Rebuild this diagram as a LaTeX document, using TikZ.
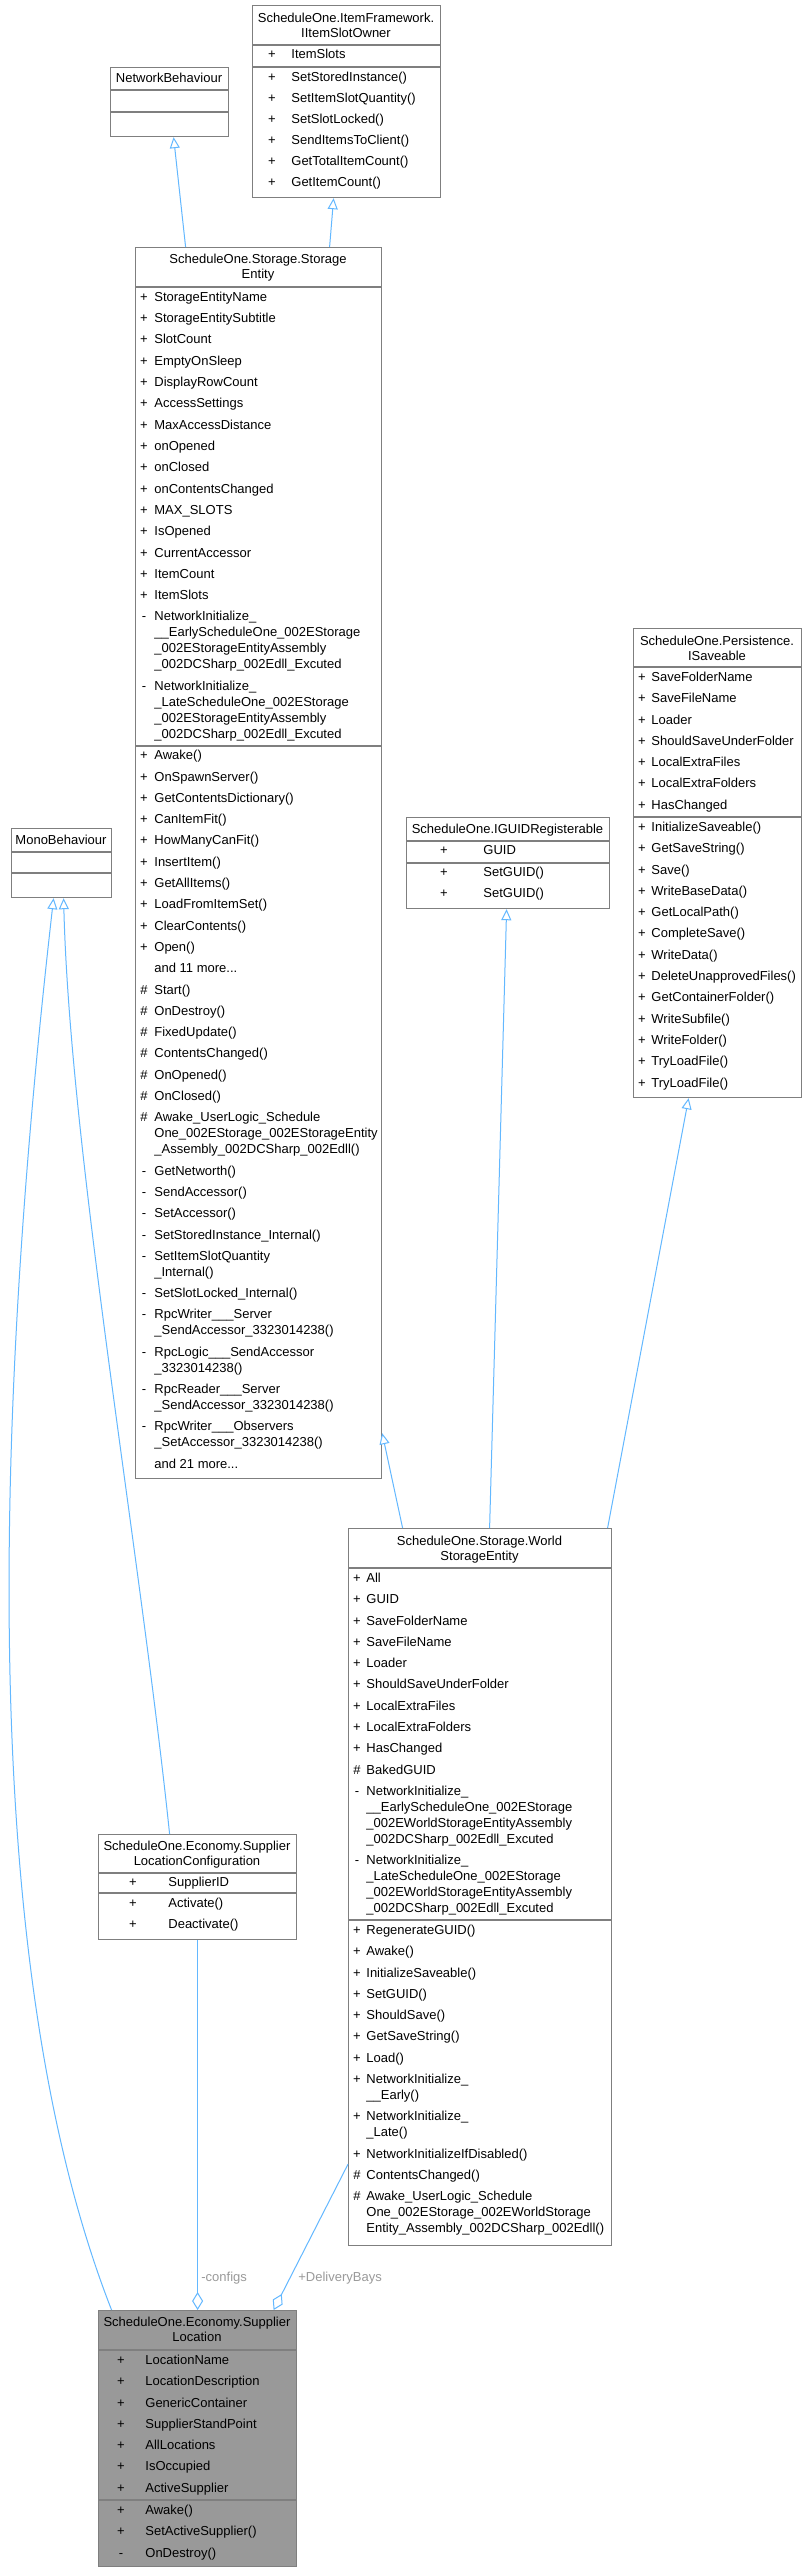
\documentclass[tikz,border=0pt]{standalone}
\usepackage{fontspec}
\setmainfont{Liberation Sans}
\usepackage{xcolor}
\usetikzlibrary{arrows.meta}

\definecolor{boxgray}{HTML}{7F7F7F}
\definecolor{edgeblue}{HTML}{63B8FF}
\definecolor{lblgray}{HTML}{9A9A9A}
\definecolor{focusgray}{HTML}{999999}

\begin{document}
\begin{tikzpicture}[
    x=0.5pt, y=-0.5pt,
    cls/.style={rectangle, draw=boxgray, line width=0.6pt, fill=white, inner sep=0pt, anchor=north west},
    sep/.style={draw=boxgray, line width=0.6pt},
    ttl/.style={inner sep=0pt, font=\fontsize{6.5}{7}\selectfont, text height=4.8pt, text depth=1.4pt},
    sym/.style={ttl},
    mem/.style={ttl, anchor=west},
    role/.style={mem, text=lblgray},
    inh/.style={draw=edgeblue, line width=0.5pt, -{Triangle[open, length=5.5pt, width=5pt, fill=white]}},
    agg/.style={draw=edgeblue, line width=0.5pt, -{Diamond[open, length=9pt, width=5.5pt, fill=white]}},
]
    \path[use as bounding box, fill=white] (0,0) rectangle (806,2568);

    % NetworkBehaviour
    \node[cls, minimum width=59pt, minimum height=34.5pt] (nb) at (110,67) {};
    \node[ttl] (nb-t) at (169,79) {NetworkBehaviour};
    \draw[sep] (110,90) -- (228,90);
    \draw[sep] (110,112) -- (228,112);

    % IItemSlotOwner
    \node[cls, minimum width=94pt, minimum height=96pt] (iso) at (252,5) {};
    \node[ttl] (iso-t1) at (346,19) {ScheduleOne.ItemFramework.};
    \node[ttl] (iso-t2) at (346,34) {IItemSlotOwner};
    \draw[sep] (252,45) -- (440,45);
    \draw[sep] (252,67) -- (440,67);
    \node[sym] (iso-as1) at (272,55) {+};
    \node[mem] (iso-a1) at (291,55) {ItemSlots};
    \foreach \y/\t [count=\i] in {78/SetStoredInstance(), 99/SetItemSlotQuantity(),
        120/SetSlotLocked(), 141/SendItemsToClient(), 162/GetTotalItemCount(), 183/GetItemCount()} {
        \node[sym] (iso-os\i) at (272,\y) {+};
        \node[mem] (iso-o\i) at (291,\y) {\t};
    }

    % MonoBehaviour
    \node[cls, minimum width=50pt, minimum height=34.5pt] (mb) at (11,828) {};
    \node[ttl] (mb-t) at (61,841) {MonoBehaviour};
    \draw[sep] (11,852) -- (111,852);
    \draw[sep] (11,873) -- (111,873);

    % StorageEntity
    \node[cls, minimum width=123pt, minimum height=615.5pt] (se) at (135,247) {};
    \node[ttl] (se-t1) at (258,260) {ScheduleOne.Storage.Storage};
    \node[ttl] (se-t2) at (258,275) {Entity};
    \draw[sep] (135,287) -- (381,287);
    \draw[sep] (135,746) -- (381,746);
    \foreach \y/\s/\t [count=\i] in {298/+/StorageEntityName, 319.3/+/StorageEntitySubtitle,
        340.6/+/SlotCount, 361.9/+/EmptyOnSleep, 383.2/+/DisplayRowCount, 404.5/+/AccessSettings,
        425.8/+/MaxAccessDistance, 447.1/+/onOpened, 468.4/+/onClosed, 489.7/+/onContentsChanged,
        511/+/MAX\_SLOTS, 532.3/+/IsOpened, 553.6/+/CurrentAccessor, 574.9/+/ItemCount,
        596.2/+/ItemSlots,
        617.5/-/NetworkInitialize\_, 633.5//\_\_EarlyScheduleOne\_002EStorage,
        649.5//\_002EStorageEntityAssembly, 665.5//\_002DCSharp\_002Edll\_Excuted,
        686.8/-/NetworkInitialize\_, 702.8//\_LateScheduleOne\_002EStorage,
        718.8//\_002EStorageEntityAssembly, 734.8//\_002DCSharp\_002Edll\_Excuted} {
        \node[sym] (se-as\i) at (144,\y) {\s};
        \node[mem] (se-a\i) at (154,\y) {\t};
    }
    \foreach \y/\s/\t [count=\i] in {756.3/+/Awake(), 777.6/+/OnSpawnServer(),
        798.9/+/GetContentsDictionary(), 820.2/+/CanItemFit(), 841.5/+/HowManyCanFit(),
        862.8/+/InsertItem(), 884.1/+/GetAllItems(), 905.4/+/LoadFromItemSet(),
        926.7/+/ClearContents(), 948/+/Open(),
        990.6/\#/Start(), 1011.9/\#/OnDestroy(), 1033.2/\#/FixedUpdate(),
        1054.5/\#/ContentsChanged(), 1075.8/\#/OnOpened(), 1097.1/\#/OnClosed(),
        1118.4/\#/Awake\_UserLogic\_Schedule, 1134.4//One\_002EStorage\_002EStorageEntity,
        1150.4//\_Assembly\_002DCSharp\_002Edll(),
        1171.7/-/GetNetworth(), 1193/-/SendAccessor(), 1214.3/-/SetAccessor(),
        1235.6/-/SetStoredInstance\_Internal(), 1256.9/-/SetItemSlotQuantity,
        1272.9//\_Internal(), 1294.2/-/SetSlotLocked\_Internal(),
        1315.5/-/RpcWriter\_\_\_Server, 1331.5//\_SendAccessor\_3323014238(),
        1352.8/-/RpcLogic\_\_\_SendAccessor, 1368.8//\_3323014238(),
        1390.1/-/RpcReader\_\_\_Server, 1406.1//\_SendAccessor\_3323014238(),
        1427.4/-/RpcWriter\_\_\_Observers, 1443.4//\_SetAccessor\_3323014238()} {
        \node[sym] (se-os\i) at (144,\y) {\s};
        \node[mem] (se-o\i) at (154,\y) {\t};
    }
    \node[mem] (se-more1) at (154,969.3) {and 11 more...};
    \node[mem] (se-more2) at (154,1464.7) {and 21 more...};

    % ISaveable
    \node[cls, minimum width=84pt, minimum height=234.5pt] (isv) at (633,628) {};
    \node[ttl] (isv-t1) at (717,642) {ScheduleOne.Persistence.};
    \node[ttl] (isv-t2) at (717,657) {ISaveable};
    \draw[sep] (633,667) -- (801,667);
    \draw[sep] (633,817) -- (801,817);
    \foreach \y/\t [count=\i] in {678/SaveFolderName, 699.3/SaveFileName, 720.6/Loader,
        742/ShouldSaveUnderFolder, 763.2/LocalExtraFiles, 784.5/LocalExtraFolders, 805.8/HasChanged} {
        \node[sym] (isv-as\i) at (642,\y) {+};
        \node[mem] (isv-a\i) at (651,\y) {\t};
    }
    \foreach \y/\t [count=\i] in {828/InitializeSaveable(), 849.3/GetSaveString(), 870.6/Save(),
        891.9/WriteBaseData(), 913.2/GetLocalPath(), 934.5/CompleteSave(), 955.8/WriteData(),
        977.1/DeleteUnapprovedFiles(), 998.4/GetContainerFolder(), 1019.7/WriteSubfile(),
        1041/WriteFolder(), 1062.3/TryLoadFile(), 1083.6/TryLoadFile()} {
        \node[sym] (isv-os\i) at (642,\y) {+};
        \node[mem] (isv-o\i) at (651,\y) {\t};
    }

    % IGUIDRegisterable
    \node[cls, minimum width=101.5pt, minimum height=45.5pt] (igr) at (406,817) {};
    \node[ttl] (igr-t) at (507.5,830) {ScheduleOne.IGUIDRegisterable};
    \draw[sep] (406,841) -- (609,841);
    \draw[sep] (406,863) -- (609,863);
    \node[sym] (igr-as1) at (444,851) {+};
    \node[mem] (igr-a1) at (483,851) {GUID};
    \node[sym] (igr-os1) at (444,873) {+};
    \node[mem] (igr-o1) at (483,873) {SetGUID()};
    \node[sym] (igr-os2) at (444,894) {+};
    \node[mem] (igr-o2) at (483,894) {SetGUID()};

    % WorldStorageEntity
    \node[cls, minimum width=131.5pt, minimum height=358.5pt] (wse) at (348,1528) {};
    \node[ttl] (wse-t1) at (479.5,1542) {ScheduleOne.Storage.World};
    \node[ttl] (wse-t2) at (479.5,1557) {StorageEntity};
    \draw[sep] (348,1568) -- (611,1568);
    \draw[sep] (348,1920) -- (611,1920);
    \foreach \y/\s/\t [count=\i] in {1579/+/All, 1600.3/+/GUID, 1621.6/+/SaveFolderName,
        1642.9/+/SaveFileName, 1664.2/+/Loader, 1685.5/+/ShouldSaveUnderFolder,
        1706.8/+/LocalExtraFiles, 1728.1/+/LocalExtraFolders, 1749.4/+/HasChanged,
        1770.7/\#/BakedGUID,
        1792/-/NetworkInitialize\_, 1808//\_\_EarlyScheduleOne\_002EStorage,
        1824//\_002EWorldStorageEntityAssembly, 1840//\_002DCSharp\_002Edll\_Excuted,
        1861.3/-/NetworkInitialize\_, 1877.3//\_LateScheduleOne\_002EStorage,
        1893.3//\_002EWorldStorageEntityAssembly, 1909.3//\_002DCSharp\_002Edll\_Excuted} {
        \node[sym] (wse-as\i) at (357,\y) {\s};
        \node[mem] (wse-a\i) at (366,\y) {\t};
    }
    \foreach \y/\s/\t [count=\i] in {1931/+/RegenerateGUID(), 1952.3/+/Awake(),
        1973.6/+/InitializeSaveable(), 1994.9/+/SetGUID(), 2016.2/+/ShouldSave(),
        2037.5/+/GetSaveString(), 2058.8/+/Load(),
        2080.1/+/NetworkInitialize\_, 2096.1//\_\_Early(),
        2117.4/+/NetworkInitialize\_, 2133.4//\_Late(),
        2154.7/+/NetworkInitializeIfDisabled(), 2176/\#/ContentsChanged(),
        2197.3/\#/Awake\_UserLogic\_Schedule, 2213.3//One\_002EStorage\_002EWorldStorage,
        2229.3//Entity\_Assembly\_002DCSharp\_002Edll()} {
        \node[sym] (wse-os\i) at (357,\y) {\s};
        \node[mem] (wse-o\i) at (366,\y) {\t};
    }

    % SupplierLocationConfiguration
    \node[cls, minimum width=99pt, minimum height=52.5pt] (slc) at (98,1834) {};
    \node[ttl] (slc-t1) at (197,1847) {ScheduleOne.Economy.Supplier};
    \node[ttl] (slc-t2) at (197,1862) {LocationConfiguration};
    \draw[sep] (98,1873) -- (296,1873);
    \draw[sep] (98,1893) -- (296,1893);
    \node[sym] (slc-as1) at (133,1883) {+};
    \node[mem] (slc-a1) at (168,1883) {SupplierID};
    \node[sym] (slc-os1) at (133,1904) {+};
    \node[mem] (slc-o1) at (168,1904) {Activate()};
    \node[sym] (slc-os2) at (133,1925) {+};
    \node[mem] (slc-o2) at (168,1925) {Deactivate()};

    % SupplierLocation
    \node[cls, fill=focusgray, minimum width=99pt, minimum height=128pt] (sl) at (98,2310) {};
    \node[ttl] (sl-t1) at (197,2323) {ScheduleOne.Economy.Supplier};
    \node[ttl] (sl-t2) at (197,2338) {Location};
    \draw[sep] (98,2350) -- (296,2350);
    \draw[sep] (98,2500) -- (296,2500);
    \foreach \y/\s/\t [count=\i] in {2361/+/LocationName, 2382.3/+/LocationDescription,
        2403.6/+/GenericContainer, 2424.9/+/SupplierStandPoint, 2446.2/+/AllLocations,
        2467.5/+/IsOccupied, 2488.8/+/ActiveSupplier} {
        \node[sym] (sl-as\i) at (121,\y) {\s};
        \node[mem] (sl-a\i) at (145,\y) {\t};
    }
    \foreach \y/\s/\t [count=\i] in {2511/+/Awake(), 2532.3/+/SetActiveSupplier(),
        2553.6/-/OnDestroy()} {
        \node[sym] (sl-os\i) at (121,\y) {\s};
        \node[mem] (sl-o\i) at (145,\y) {\t};
    }

    % inheritance
    \draw[inh] ([xshift=-36.5pt]se.north) -- ([xshift=2pt]nb.south);
    \draw[inh] ([xshift=35.5pt]se.north) -- ([xshift=-6.5pt]iso.south);
    \draw[inh] ([xshift=-38.75pt]wse.north) -- ([yshift=23pt]se.south east);
    \draw[inh] ([xshift=4.75pt]wse.north) -- ([xshift=-0.75pt]igr.south);
    \draw[inh] ([xshift=63.75pt]wse.north) -- ([xshift=-14.5pt]isv.south);
    \draw[inh] ([xshift=-43pt]sl.north) .. controls (-10,2000) and (-15,1500) .. ([xshift=-4pt]mb.south);
    \draw[inh] ([xshift=-14pt]slc.north) .. controls (140,1550) and (70,1150) .. ([xshift=1pt]mb.south);

    % aggregation
    \draw[agg] (slc.south) -- (sl.north);
    \draw[agg] ([yshift=41pt]wse.south west) -- ([xshift=38pt]sl.north);
    \node[role] (configs) at (201,2278) {-configs};
    \node[role] (bays) at (298,2278) {+DeliveryBays};

\end{tikzpicture}
\end{document}
